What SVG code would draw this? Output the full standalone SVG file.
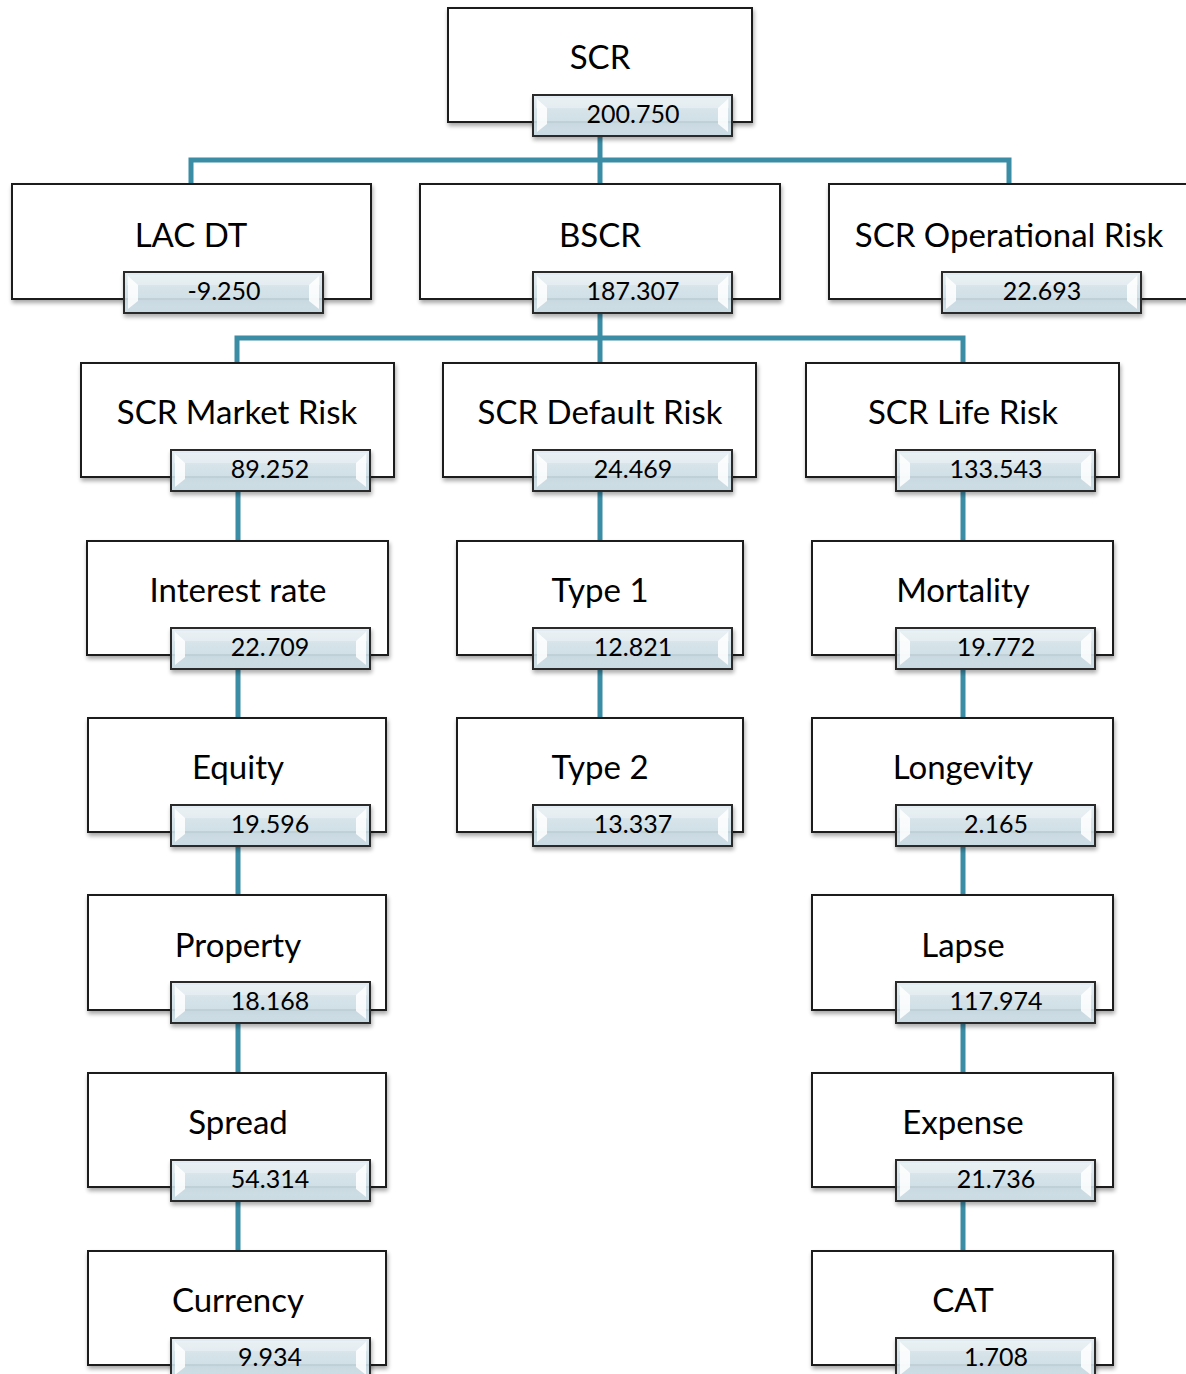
<svg xmlns="http://www.w3.org/2000/svg" width="1186" height="1374" viewBox="0 0 1186 1374">
<style>
.box{fill:#fff;stroke:#1a1a1a;stroke-width:2;filter:url(#sh)}
.val{fill:url(#vg);fill-opacity:0.9;stroke:#2a2a2a;stroke-width:2;filter:url(#sh)}
.bev{fill:#fff;opacity:0.85}
.t{font-family:Lato,"Liberation Sans",sans-serif;font-size:33px;fill:#000;text-anchor:middle}
.v{font-family:Lato,"Liberation Sans",sans-serif;font-size:25px;fill:#000;text-anchor:middle}
.c{fill:none;stroke:#3b8ca5;stroke-width:5}
</style>
<defs>
<linearGradient id="vg" x1="0" y1="0" x2="0" y2="1">
<stop offset="0" stop-color="#e3eef3"/>
<stop offset="0.5" stop-color="#d3e3ea"/>
<stop offset="1" stop-color="#c9dbe4"/>
</linearGradient>
<filter id="sh" x="-5%" y="-5%" width="112%" height="125%">
<feGaussianBlur in="SourceAlpha" stdDeviation="2"/>
<feOffset dx="1" dy="3"/>
<feComponentTransfer><feFuncA type="linear" slope="0.35"/></feComponentTransfer>
<feMerge><feMergeNode/><feMergeNode in="SourceGraphic"/></feMerge>
</filter>
<g id="vb">
<rect class="val" x="0" y="0" width="199" height="41"/>
<polygon class="bev" points="4,4 14,13 14,29 4,37"/>
<polygon class="bev" points="195,4 185,13 185,29 195,37"/>
<rect x="3" y="3" width="193" height="10" fill="#fff" opacity="0.3"/>
</g>
</defs>
<g id="connectors">
<path class="c" d="M600,135 V184 M191,184 V160 H1009 V184"/>
<path class="c" d="M600,313 V363 M237,363 V338 H963 V363"/>
<path class="c" d="M238,490 V541 M238,668 V718 M238,845 V895 M238,1023 V1073 M238,1201 V1251"/>
<path class="c" d="M600,490 V541 M600,668 V718"/>
<path class="c" d="M963,490 V541 M963,668 V718 M963,845 V895 M963,1023 V1073 M963,1201 V1251"/>
</g>
<g id="n-scr"><rect class="box" x="448" y="8" width="304" height="114"/><text class="t" x="600" y="69">SCR</text><use href="#vb" x="533" y="95"/><text class="v" x="633" y="123">200.750</text></g>
<g id="n-lac"><rect class="box" x="12" y="184" width="359" height="115"/><text class="t" x="191" y="247">LAC DT</text><use href="#vb" x="124" y="272"/><text class="v" x="224" y="300">-9.250</text></g>
<g id="n-bscr"><rect class="box" x="420" y="184" width="360" height="115"/><text class="t" x="600" y="247">BSCR</text><use href="#vb" x="533" y="272"/><text class="v" x="633" y="300">187.307</text></g>
<g id="n-op"><rect class="box" x="829" y="184" width="370" height="115"/><text class="t" x="1009" y="247">SCR Operational Risk</text><use href="#vb" x="942" y="272"/><text class="v" x="1042" y="300">22.693</text></g>
<g id="n-mkt"><rect class="box" x="81" y="363" width="313" height="114"/><text class="t" x="237" y="424">SCR Market Risk</text><use href="#vb" x="171" y="450"/><text class="v" x="270" y="478">89.252</text></g>
<g id="n-def"><rect class="box" x="443" y="363" width="313" height="114"/><text class="t" x="600" y="424">SCR Default Risk</text><use href="#vb" x="533" y="450"/><text class="v" x="633" y="478">24.469</text></g>
<g id="n-life"><rect class="box" x="806" y="363" width="313" height="114"/><text class="t" x="963" y="424">SCR Life Risk</text><use href="#vb" x="896" y="450"/><text class="v" x="996" y="478">133.543</text></g>
<g id="n-ir"><rect class="box" x="87" y="541" width="301" height="114"/><text class="t" x="238" y="602">Interest rate</text><use href="#vb" x="171" y="628"/><text class="v" x="270" y="656">22.709</text></g>
<g id="n-t1"><rect class="box" x="457" y="541" width="286" height="114"/><text class="t" x="600" y="602">Type 1</text><use href="#vb" x="533" y="628"/><text class="v" x="633" y="656">12.821</text></g>
<g id="n-mort"><rect class="box" x="812" y="541" width="301" height="114"/><text class="t" x="963" y="602">Mortality</text><use href="#vb" x="896" y="628"/><text class="v" x="996" y="656">19.772</text></g>
<g id="n-eq"><rect class="box" x="88" y="718" width="298" height="114"/><text class="t" x="238" y="779">Equity</text><use href="#vb" x="171" y="805"/><text class="v" x="270" y="833">19.596</text></g>
<g id="n-t2"><rect class="box" x="457" y="718" width="286" height="114"/><text class="t" x="600" y="779">Type 2</text><use href="#vb" x="533" y="805"/><text class="v" x="633" y="833">13.337</text></g>
<g id="n-long"><rect class="box" x="812" y="718" width="301" height="114"/><text class="t" x="963" y="779">Longevity</text><use href="#vb" x="896" y="805"/><text class="v" x="996" y="833">2.165</text></g>
<g id="n-prop"><rect class="box" x="88" y="895" width="298" height="115"/><text class="t" x="238" y="957">Property</text><use href="#vb" x="171" y="982"/><text class="v" x="270" y="1010">18.168</text></g>
<g id="n-lapse"><rect class="box" x="812" y="895" width="301" height="115"/><text class="t" x="963" y="957">Lapse</text><use href="#vb" x="896" y="982"/><text class="v" x="996" y="1010">117.974</text></g>
<g id="n-spread"><rect class="box" x="88" y="1073" width="298" height="114"/><text class="t" x="238" y="1134">Spread</text><use href="#vb" x="171" y="1160"/><text class="v" x="270" y="1188">54.314</text></g>
<g id="n-exp"><rect class="box" x="812" y="1073" width="301" height="114"/><text class="t" x="963" y="1134">Expense</text><use href="#vb" x="896" y="1160"/><text class="v" x="996" y="1188">21.736</text></g>
<g id="n-cur"><rect class="box" x="88" y="1251" width="298" height="114"/><text class="t" x="238" y="1312">Currency</text><use href="#vb" x="171" y="1338"/><text class="v" x="270" y="1366">9.934</text></g>
<g id="n-cat"><rect class="box" x="812" y="1251" width="301" height="114"/><text class="t" x="963" y="1312">CAT</text><use href="#vb" x="896" y="1338"/><text class="v" x="996" y="1366">1.708</text></g>
</svg>
